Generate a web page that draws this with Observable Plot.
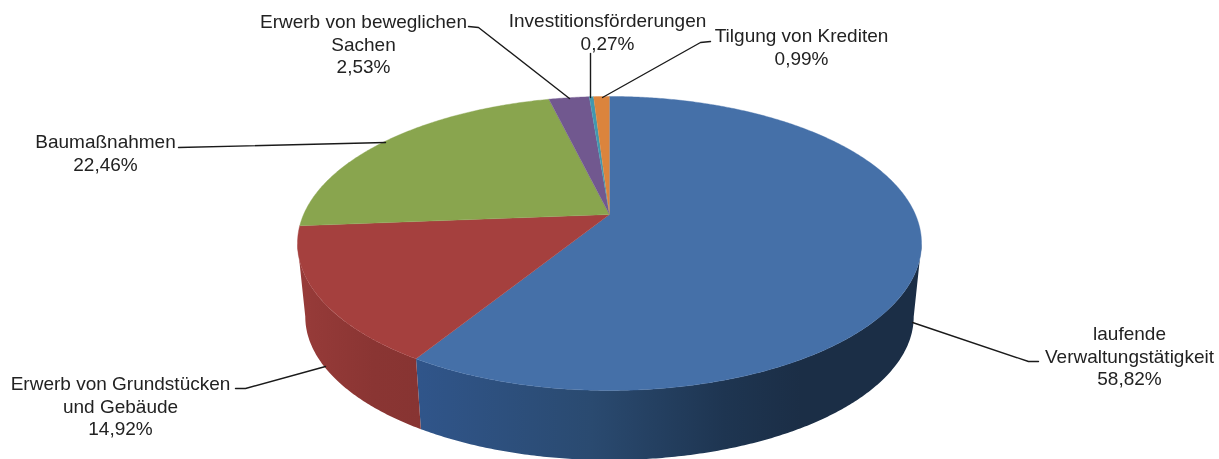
<!DOCTYPE html>
<html><head><meta charset="utf-8">
<script src="https://cdn.jsdelivr.net/npm/d3@7"></script>
<script src="https://cdn.jsdelivr.net/npm/@observablehq/plot@0.6"></script>
<style>html,body{margin:0;padding:0;background:#fff}svg{display:block;filter:blur(0.45px)}</style>
</head><body><div id="chart"></div>
<script>
// Data
const categories = ["laufende Verwaltungstätigkeit","Erwerb von Grundstücken und Gebäude","Baumaßnahmen","Erwerb von beweglichen Sachen","Investitionsförderungen","Tilgung von Krediten"];
const shares = [58.82,14.92,22.46,2.53,0.27,0.99];
const shareLabels = ["58,82%","14,92%","22,46%","2,53%","0,27%","0,99%"];

// Colours
const topColors = ["#4570a8","#a5403e","#89a54e","#71588f","#4198af","#db843d"];

// Layout
const W = 1219, H = 459;
const cx = 609, cy = 214, rx = 305.9, ry = 141.3, k = 0.197, depthScale = 0.975, depthY = 74 / ry;
const FS = 19, LH = 1.19;
const labelLines = ["laufende\nVerwaltungstätigkeit","Erwerb von Grundstücken\nund Gebäude","Baumaßnahmen","Erwerb von beweglichen\nSachen","Investitionsförderungen","Tilgung von Krediten"];
const labelAnchors = [[1129,355],[120,405],[105,152],[363,43],[607,31],[801,46]];
const leaders = [
  [[1038,361],[1028,361],[912,322]],
  [[235,388],[245,388],[325,366]],
  [[178,147],[385,142]],
  [[468,26],[478,27],[569,98]],
  [[590,53],[590,97]],
  [[710,41],[700,42],[602,97]]
];

const dataX = px => (px - cx) / rx;
const dataY = py => (cy - py) / ry;

// perspective projection of a pie-circle angle (degrees clockwise from 12 o'clock)
function rim(deg) {
  const t = deg * Math.PI / 180, u = Math.sin(t), v = Math.cos(t), d = 1 + k * v;
  return {x: u / d, y: v / d};
}
const cum = d3.cumsum(shares);
const total = cum[cum.length - 1];
const angleAt = i => (i < 0 ? 0 : cum[i] / total * 360);

function arcPts(a, b) {
  const n = Math.max(2, Math.ceil(Math.abs(b - a) * 2));
  return d3.range(n + 1).map(i => rim(a + (b - a) * i / n));
}
const lower = p => ({x: p.x * depthScale, y: p.y * depthScale - depthY});

const tangent = Math.acos(-k) * 180 / Math.PI;
function sidePts(a, b) {
  const top = arcPts(a, b);
  return [...top, ...top.slice().reverse().map(lower)];
}
function topPts(i) {
  return [{x:0,y:0}, ...arcPts(angleAt(i-1), angleAt(i))];
}

const defs = () => {
  const d = d3.create("svg:defs");
  const g1 = d.append("linearGradient").attr("id","blueSide").attr("gradientUnits","userSpaceOnUse")
    .attr("x1",418).attr("x2",800).attr("y1",0).attr("y2",0);
  [[0,"#30558a"],[0.45,"#2a4a70"],[0.8,"#1e3551"],[1,"#1b2e46"]].forEach(([o,c]) => g1.append("stop").attr("offset",o).attr("stop-color",c));
  const g2 = d.append("linearGradient").attr("id","redSide").attr("gradientUnits","userSpaceOnUse")
    .attr("x1",300).attr("x2",422).attr("y1",0).attr("y2",0);
  [[0,"#973b39"],[0.6,"#8a3533"],[1,"#873432"]].forEach(([o,c]) => g2.append("stop").attr("offset",o).attr("stop-color",c));
  return d.node();
};

const labelData = labelLines.map((t,i) => ({text: t + "\n" + shareLabels[i], x: dataX(labelAnchors[i][0]), y: dataY(labelAnchors[i][1])}));
const lineOpts = {x:"x", y:"y"};
const chart = Plot.plot({
  width: W, height: H,
  margin: 0,
  x: {domain:[dataX(0), dataX(W)], range:[0,W], axis:null},
  y: {domain:[dataY(H), dataY(0)], range:[H,0], axis:null},
  style: {background:"#fff"},
  marks: [
    defs,
    Plot.line(sidePts(tangent, angleAt(0)), {...lineOpts, fill:"url(#blueSide)", stroke:"none"}),
    Plot.line(sidePts(angleAt(0), 360 - tangent), {...lineOpts, fill:"url(#redSide)", stroke:"none"}),
    ...shares.map((s,i) => Plot.line(topPts(i), {...lineOpts, fill:topColors[i], stroke:topColors[i], strokeWidth:0.4})),
    ...leaders.map(l => Plot.line(l.map(([x,y]) => ({x:dataX(x), y:dataY(y)})), {...lineOpts, stroke:"#1a1a1a", strokeWidth:1.4, curve:"linear"})),
    Plot.text(labelData, {x:"x", y:"y", text:"text", fontSize:FS, lineHeight:LH, fontFamily:"Liberation Sans", fill:"#222", textAnchor:"middle", lineAnchor:"middle"}),
    // the source picture is cropped just above the first text line
    Plot.rect([0], {x1:dataX(0), x2:dataX(W), y1:dataY(0), y2:dataY(14), fill:"#fff"})
  ]
});
document.getElementById("chart").append(chart);
</script></body></html>
